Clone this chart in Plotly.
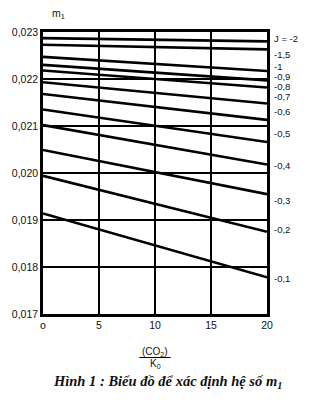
import plotly.graph_objects as go

# Data
x_vals = [0, 20]
j_labels = ["J = -2", "-1,5", "-1", "-0,9", "-0,8", "-0,7", "-0,6", "-0,5", "-0,4", "-0,3", "-0,2", "-0,1"]
m1_left = [0.02287, 0.02273, 0.02247, 0.02230, 0.02218, 0.02193, 0.02168, 0.02135, 0.02102, 0.02049, 0.01994, 0.01914]
m1_right = [0.02280, 0.02263, 0.02217, 0.02197, 0.02182, 0.02148, 0.02113, 0.02066, 0.02018, 0.01955, 0.01875, 0.01778]
y_ticks = [0.017, 0.018, 0.019, 0.020, 0.021, 0.022, 0.023]
y_ticktext = ["0,017", "0,018", "0,019", "0,020", "0,021", "0,022", "0,023"]
x_ticks = [0, 5, 10, 15, 20]
x_ticktext = ["o", "5", "10", "15", "20"]

# label vertical offsets (px) relative to line end
label_shift = [3, -5, 5, 4, 1, 7, 8, 8, -1, -6, 2, -1]

fig = go.Figure()
for lab, a, b in zip(j_labels, m1_left, m1_right):
    fig.add_trace(go.Scatter(x=x_vals, y=[a, b], mode="lines",
                             line=dict(color="black", width=2.6),
                             showlegend=False, hoverinfo="skip"))

font = dict(family="Liberation Sans, Arial, sans-serif", size=10.5, color="#111")
lab_font = dict(family="Liberation Sans, Arial, sans-serif", size=9.5, color="#111")

for lab, b, s in zip(j_labels, m1_right, label_shift):
    fig.add_annotation(x=20, y=b, xref="x", yref="y", text=lab, showarrow=False,
                       xanchor="left", yanchor="middle", xshift=5, yshift=s, font=lab_font)

fig.add_annotation(x=0.03, y=1.0, xref="paper", yref="paper", text="m<sub>1</sub>",
                   showarrow=False, xanchor="left", yanchor="bottom", yshift=9, font=font)

fig.add_annotation(x=0.5, y=0, xref="paper", yref="paper",
                   text="(CO<sub>2</sub>)", showarrow=False, xanchor="center",
                   yanchor="middle", yshift=-38, font=dict(family="Liberation Sans, Arial", size=10, color="#111"))
fig.add_annotation(x=0.5, y=0, xref="paper", yref="paper",
                   text="K<sub>0</sub>", showarrow=False, xanchor="center",
                   yanchor="middle", yshift=-50, font=dict(family="Liberation Sans, Arial", size=10, color="#111"))
fig.add_shape(type="line", xref="paper", yref="paper", x0=0.43, x1=0.57,
              y0=-43.5/282, y1=-43.5/282, line=dict(color="black", width=1))

fig.add_annotation(x=0.557, y=0, xref="paper", yref="paper",
                   text="<b><i>Hình 1 : Biểu đồ để xác định hệ số m<sub>1</sub></i></b>",
                   showarrow=False, xanchor="center", yanchor="middle", yshift=-68,
                   font=dict(family="Liberation Serif, Times New Roman, serif", size=14.5, color="#111"))

axis_common = dict(showline=True, linewidth=2.5, linecolor="black", mirror=True,
                   showgrid=True, gridcolor="black", gridwidth=1.6, zeroline=False,
                   ticks="", tickfont=font)

fig.update_xaxes(range=[0, 20], tickvals=x_ticks, ticktext=x_ticktext, **axis_common)
fig.update_yaxes(range=[0.017, 0.023], tickvals=y_ticks, ticktext=y_ticktext, **axis_common)

fig.update_layout(width=310, height=403, margin=dict(l=40, r=43, t=32, b=89),
                  plot_bgcolor="white", paper_bgcolor="white")

fig.write_html("out.html")
